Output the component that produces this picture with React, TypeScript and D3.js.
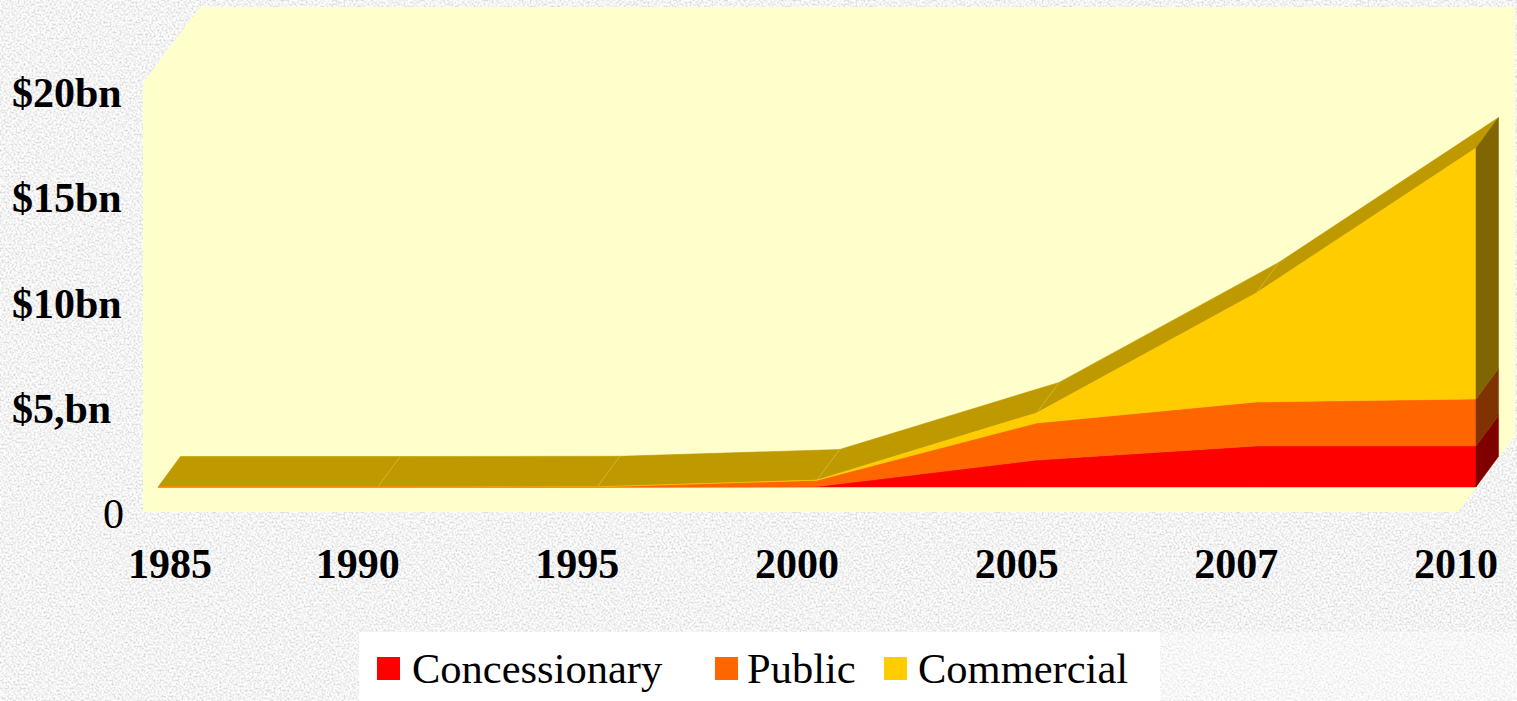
import React from "react";
import * as d3 from "d3";

const years = ["1985", "1990", "1995", "2000", "2005", "2007", "2010"];
const concessionary = [0, 0, 0, 0.02, 1.28, 1.95, 1.95];
const publicVals = [0, 0, 0.01, 0.3, 1.76, 2.09, 2.23];
const commercial = [0, 0, 0, 0.01, 0.48, 5.18, 11.92];

const seriesNames = ["Concessionary", "Public", "Commercial"];
const seriesFront = ["#FF0000", "#FF6600", "#FFCC00"];
const seriesSide = ["#800000", "#803300", "#806600"];
const topColor = "#BF9900";

const tickValues = [0, 5, 10, 15, 20];
const tickLabels = ["0", "$5,bn", "$10bn", "$15bn", "$20bn"];

const W = 1517;
const H = 701;
const DX = 22.5;
const DY = -30.5;

export default function App() {
  const x = d3.scalePoint<string>().domain(years).range([158, 1476]);
  const y = d3.scaleLinear().domain([0, 20]).range([487, 487 - 20 * 21.05]);
  const labelY = d3.scaleLinear().domain([0, 20]).range([528, 107]);

  const rows = years.map((yr, i) => ({
    year: yr,
    Concessionary: concessionary[i],
    Public: publicVals[i],
    Commercial: commercial[i],
  }));
  const stack = d3.stack<any>().keys(seriesNames)(rows);
  const area = d3
    .area<any>()
    .x((d) => x(d.data.year) as number)
    .y0((d) => y(d[0]))
    .y1((d) => y(d[1]));

  const top = stack[stack.length - 1];
  const pts = top.map((d) => [x(d.data.year) as number, y(d[1])]);

  const topFaces = pts.slice(0, -1).map((p, i) => {
    const q = pts[i + 1];
    return [p, q, [q[0] + DX, q[1] + DY], [p[0] + DX, p[1] + DY]];
  });
  const line = d3.line();

  const last = years.length - 1;
  const xe = x(years[last]) as number;

  // back wall / floor polygon (chamfered by wall depth)
  const wall = [
    [143, 83],
    [200, 7],
    [1515, 7],
    [1515, 436],
    [1458, 512],
    [143, 512],
  ] as [number, number][];

  const legendItems = [
    { sx: 377, tx: 412 },
    { sx: 715, tx: 747 },
    { sx: 884, tx: 918 },
  ];

  return (
    <svg width={W} height={H} style={{ display: "block", position: "absolute", left: 0, top: 0 }}>
      <defs>
        <filter id="granite" x="0" y="0" width="100%" height="100%">
          <feTurbulence type="fractalNoise" baseFrequency="0.5" numOctaves="3" seed="7" result="n" />
          <feColorMatrix
            in="n"
            type="matrix"
            values="0.75 0 0 0 0.52  0.75 0 0 0 0.52  0.75 0 0 0 0.52  0 0 0 0 1"
          />
        </filter>
      </defs>
      <rect x={0} y={0} width={W} height={H} fill="#E4E4E4" />
      <rect x={0} y={0} width={W} height={H} filter="url(#granite)" />
      <rect x={1160} y={632} width={W - 1160} height={H - 632} fill="#FFFFFF" opacity={0.35} />

      <path d={line(wall) + "Z"} fill="#FFFFCC" />

      {topFaces.map((f, i) => (
        <path key={"t" + i} d={line(f as any) + "Z"} fill={topColor} stroke={topColor} strokeWidth={0.6} />
      ))}
      {pts.slice(1, -1).map((p, i) => (
        <line
          key={"s" + i}
          x1={p[0]}
          y1={p[1]}
          x2={p[0] + DX}
          y2={p[1] + DY}
          stroke="#D6BC4A"
          strokeWidth={0.7}
        />
      ))}

      {stack.map((s, i) => (
        <path key={"a" + i} d={area(s) as string} fill={seriesFront[i]} stroke={seriesFront[i]} strokeWidth={0.5} />
      ))}

      {stack.map((s, i) => {
        const d = s[last];
        if (d[1] - d[0] <= 0) return null;
        const y0 = y(d[0]);
        const y1 = y(d[1]);
        const poly = [
          [xe, y0],
          [xe, y1],
          [xe + DX, y1 + DY],
          [xe + DX, y0 + DY],
        ] as [number, number][];
        return <path key={"r" + i} d={line(poly) + "Z"} fill={seriesSide[i]} stroke={seriesSide[i]} strokeWidth={0.5} />;
      })}

      {tickValues.map((v, i) => (
        <text
          key={"y" + i}
          x={v === 0 ? 103 : 12}
          y={labelY(v)}
          fontFamily="'Liberation Serif', 'Times New Roman', serif"
          fontWeight={v === 0 ? "normal" : "bold"}
          fontSize={42}
          fill="#000"
        >
          {tickLabels[i]}
        </text>
      ))}

      {years.map((yr) => (
        <text
          key={"x" + yr}
          x={Math.max((x(yr) as number) - 20, 170)}
          y={578}
          textAnchor="middle"
          fontFamily="'Liberation Serif', 'Times New Roman', serif"
          fontWeight="bold"
          fontSize={42}
          fill="#000"
        >
          {yr}
        </text>
      ))}

      <rect x={359} y={632} width={801} height={H - 632 + 2} fill="#FFFFFF" />
      {seriesNames.map((n, i) => (
        <g key={"l" + n}>
          <rect x={legendItems[i].sx} y={657} width={23} height={23} fill={seriesFront[i]} />
          <text
            x={legendItems[i].tx}
            y={683}
            fontFamily="'Liberation Serif', 'Times New Roman', serif"
            fontSize={42.5}
            fill="#000"
          >
            {n}
          </text>
        </g>
      ))}
    </svg>
  );
}
